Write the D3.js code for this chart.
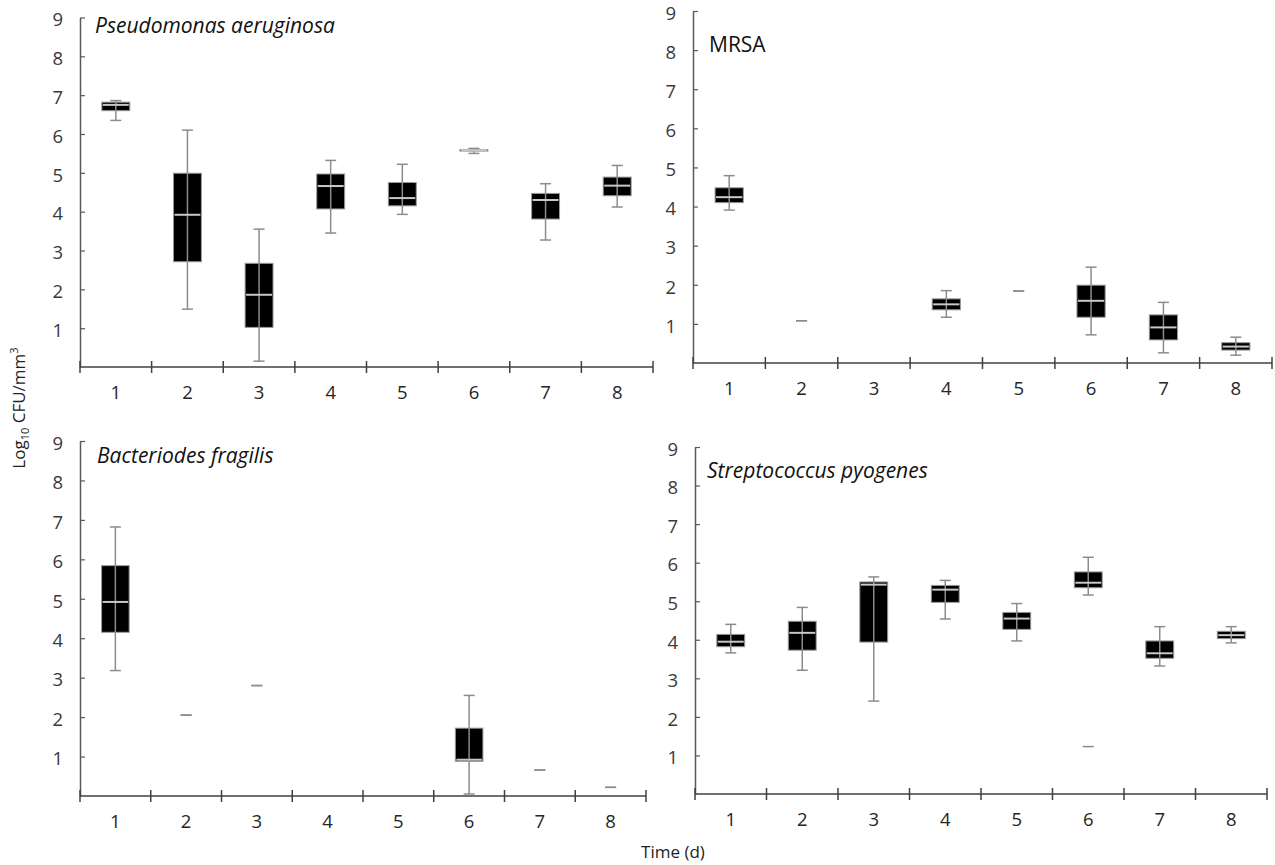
<!DOCTYPE html>
<html>
<head>
<meta charset="utf-8">
<script src="https://cdn.jsdelivr.net/npm/d3@7"></script>
<style>
  body { margin: 0; background: #fff; }
  svg text { font-family: "Open Sans", sans-serif; }
</style>
</head>
<body>
<svg id="chart" width="1275" height="865"></svg>
<script>
// time points (days)
const days = [1, 2, 3, 4, 5, 6, 7, 8];
const yTicks = [1, 2, 3, 4, 5, 6, 7, 8, 9];

// box stats per day: [min, q1, median, q3, max], null = nothing detected
const pseudomonas = [
  [6.35, 6.6, 6.75, 6.82, 6.86],
  [1.49, 2.71, 3.92, 4.99, 6.1],
  [0.15, 1.02, 1.86, 2.67, 3.55],
  [3.45, 4.07, 4.66, 4.97, 5.32],
  [3.93, 4.15, 4.35, 4.75, 5.22],
  [5.5, 5.56, 5.58, 5.6, 5.63],
  [3.27, 3.81, 4.3, 4.47, 4.72],
  [4.12, 4.41, 4.67, 4.89, 5.19]
];
const mrsa = [
  [3.91, 4.1, 4.24, 4.48, 4.79],
  [1.08, 1.08, 1.08, 1.08, 1.08],
  null,
  [1.17, 1.36, 1.5, 1.64, 1.85],
  [1.84, 1.84, 1.84, 1.84, 1.84],
  [0.72, 1.17, 1.59, 1.99, 2.45],
  [0.26, 0.59, 0.91, 1.23, 1.55],
  [0.2, 0.33, 0.42, 0.52, 0.66]
];
const bacteroides = [
  [3.18, 4.15, 4.92, 5.84, 6.82],
  [2.05, 2.05, 2.05, 2.05, 2.05],
  [2.8, 2.8, 2.8, 2.8, 2.8],
  null,
  null,
  [0.05, 0.88, 0.92, 1.72, 2.55],
  [0.66, 0.66, 0.66, 0.66, 0.66],
  [0.22, 0.22, 0.22, 0.22, 0.22]
];
const streptococcus = [
  [3.66, 3.82, 3.95, 4.14, 4.4],
  [3.21, 3.73, 4.18, 4.48, 4.84],
  [2.41, 3.94, 5.43, 5.5, 5.63],
  [4.54, 4.97, 5.3, 5.41, 5.54],
  [3.97, 4.27, 4.55, 4.71, 4.94],
  [5.16, 5.35, 5.48, 5.76, 6.14],
  [3.32, 3.52, 3.65, 3.97, 4.34],
  [3.92, 4.03, 4.12, 4.22, 4.34]
];
// separate outlier marks: [day, value]
const streptococcusOutliers = [[6, 1.23]];

const titles = ["Pseudomonas aeruginosa", "MRSA", "Bacteriodes fragilis", "Streptococcus pyogenes"];

// panel frames (pixel layout)
const panels = [
  { data: pseudomonas, outliers: [], title: titles[0], italic: true, x0: 80, x1: 653, yTop: 17.5, yBot: 367, tx: 95, ty: 33 },
  { data: mrsa, outliers: [], title: titles[1], italic: false, x0: 693, x1: 1272, yTop: 11, yBot: 363, tx: 709, ty: 52 },
  { data: bacteroides, outliers: [], title: titles[2], italic: true, x0: 80, x1: 646, yTop: 441, yBot: 796, tx: 97, ty: 463 },
  { data: streptococcus, outliers: streptococcusOutliers, title: titles[3], italic: true, x0: 695, x1: 1267, yTop: 447, yBot: 794, tx: 707, ty: 478 }
];

const svg = d3.select('#chart');
const axisCol = '#595959';
const whiskCol = '#8c8c8c';
const labelCol = '#3a3a3a';

panels.forEach(function(p) {
  const x = d3.scaleBand().domain(days).range([p.x0, p.x1]).padding(0);
  const y = d3.scaleLinear().domain([0, 9]).range([p.yBot, p.yTop]);
  const g = svg.append('g');
  const bw = x.bandwidth() * 0.39;
  const cw = 11;

  // y axis, ticks pointing inward
  const yAxis = g.append('g')
    .attr('transform', 'translate(' + p.x0 + ',0)')
    .call(d3.axisLeft(y).tickValues(yTicks).tickSizeInner(-5).tickSizeOuter(0).tickPadding(17));
  yAxis.select('.domain').attr('stroke', axisCol).attr('stroke-width', 1.5);
  yAxis.selectAll('.tick line').attr('stroke', axisCol).attr('stroke-width', 1.2);
  yAxis.selectAll('.tick text')
    .attr('fill', labelCol)
    .attr('dy', '0.45em')
    .style('font-size', '18.5px')
    .style('font-family', '"Open Sans", sans-serif');

  // x axis labels
  const xAxis = g.append('g')
    .attr('transform', 'translate(0,' + p.yBot + ')')
    .call(d3.axisBottom(x).tickSize(0).tickPadding(19));
  xAxis.select('.domain').remove();
  xAxis.selectAll('.tick text').attr('fill', '#262626').style('font-size', '18.5px').style('font-family', '"Open Sans", sans-serif');

  g.append('line')
    .attr('x1', p.x0).attr('x2', p.x1)
    .attr('y1', p.yBot).attr('y2', p.yBot)
    .attr('stroke', '#404040').attr('stroke-width', 1.5);

  const bounds = days.map((d) => x(d)).concat([x(days[days.length - 1]) + x.step()]);
  g.selectAll('.xt').data(bounds).enter().append('line')
    .attr('x1', (d) => d).attr('x2', (d) => d)
    .attr('y1', p.yBot - 6).attr('y2', p.yBot + 6)
    .attr('stroke', '#404040').attr('stroke-width', 1.5);

  const boxes = p.data.map((s, i) => ({ day: days[i], s: s })).filter((d) => d.s);
  const cx = (d) => x(d.day) + x.bandwidth() / 2;

  const bg = g.selectAll('.box').data(boxes).enter().append('g');

  // box body
  bg.filter((d) => d.s[3] > d.s[1]).append('rect')
    .attr('x', (d) => cx(d) - bw / 2)
    .attr('width', bw)
    .attr('y', (d) => y(d.s[3]))
    .attr('height', (d) => y(d.s[1]) - y(d.s[3]))
    .attr('fill', '#000')
    .attr('stroke', '#9a9a9a')
    .attr('stroke-width', 1);

  // whisker stem through the box
  bg.filter((d) => d.s[4] > d.s[0]).append('line')
    .attr('x1', cx).attr('x2', cx)
    .attr('y1', (d) => y(d.s[4])).attr('y2', (d) => y(d.s[0]))
    .attr('stroke', whiskCol).attr('stroke-width', 1.5);

  // caps
  [0, 4].forEach(function(k) {
    bg.append('line')
      .attr('x1', (d) => cx(d) - cw / 2).attr('x2', (d) => cx(d) + cw / 2)
      .attr('y1', (d) => y(d.s[k])).attr('y2', (d) => y(d.s[k]))
      .attr('stroke', whiskCol).attr('stroke-width', 1.5);
  });

  // median
  bg.filter((d) => d.s[3] > d.s[1]).append('line')
    .attr('x1', (d) => cx(d) - bw / 2 + 1).attr('x2', (d) => cx(d) + bw / 2 - 1)
    .attr('y1', (d) => y(d.s[2])).attr('y2', (d) => y(d.s[2]))
    .attr('stroke', '#c8c8c8').attr('stroke-width', 2);

  // outliers as short dashes
  g.selectAll('.out').data(p.outliers).enter().append('line')
    .attr('x1', (d) => x(d[0]) + x.bandwidth() / 2 - cw / 2)
    .attr('x2', (d) => x(d[0]) + x.bandwidth() / 2 + cw / 2)
    .attr('y1', (d) => y(d[1])).attr('y2', (d) => y(d[1]))
    .attr('stroke', whiskCol).attr('stroke-width', 1.5);

  g.append('text')
    .attr('x', p.tx).attr('y', p.ty)
    .style('font-size', '21px')
    .style('font-style', p.italic ? 'italic' : 'normal')
    .attr('fill', '#111')
    .text(p.title);
});

// shared axis titles
const yl = svg.append('text')
  .attr('transform', 'translate(25,408) rotate(-90)')
  .attr('text-anchor', 'middle')
  .attr('fill', '#222')
  .style('font-size', '17px');
yl.append('tspan').text('Log');
yl.append('tspan').attr('dy', 4).style('font-size', '11px').text('10');
yl.append('tspan').attr('dy', -4).text(' CFU/mm');
yl.append('tspan').attr('dy', -7).style('font-size', '11px').text('3');

svg.append('text')
  .attr('x', 673).attr('y', 858)
  .attr('text-anchor', 'middle')
  .attr('fill', '#222')
  .style('font-size', '17px')
  .text('Time (d)');
</script>
</body>
</html>
